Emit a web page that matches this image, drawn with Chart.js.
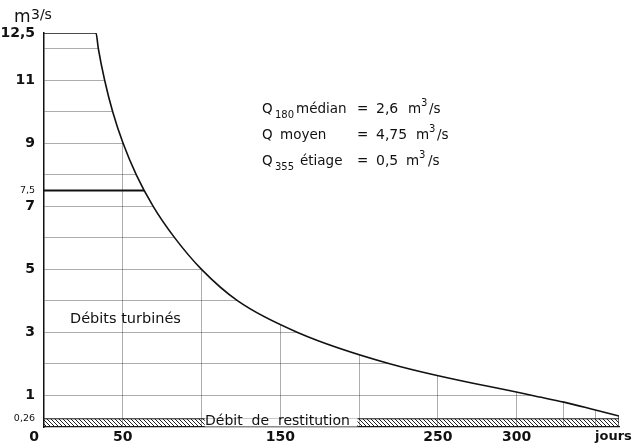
<!DOCTYPE html>
<html>
<head>
<meta charset="utf-8">
<script src="https://cdn.jsdelivr.net/npm/chart.js@4.4.0/dist/chart.umd.min.js"></script>
<style>
  html, body { margin: 0; padding: 0; background: #fff; }
  canvas { display: block; }
</style>
</head>
<body>
<canvas id="chart" width="640" height="446"></canvas>
<script>
// flow duration curve (days vs m3/s)
const days = [0, 33, 34.5, 38.5, 43.6, 50.2, 58.6, 69.3, 83, 100, 123, 161, 220, 310, 330, 350, 365];
const flow = [12.5, 12.5, 12, 11, 10, 9, 8, 7, 6, 5, 4, 3, 2, 1, 0.79, 0.54, 0.35];

const restitution = 0.26;
const markerLevel = 7.5;
const markerDay = 63.9;
const lastDay = 365;
const lastFlow = 0.35;

const yTicks = [0, 0.26, 1, 2, 3, 4, 5, 6, 7, 7.5, 8, 9, 10, 11, 12, 12.5];
const yLabels = [0.26, 1, 3, 5, 7, 7.5, 9, 11, 12.5];
const smallLabels = [0.26, 7.5];
const xTicks = [0, 50, 100, 150, 200, 250, 300, 330, 350, 365];
const xLabels = [50, 150, 250, 300];
const xGrid = [50, 100, 150, 200, 250, 300, 330, 350];

const fmt = v => String(v).replace(".", ",");
const GRID = "rgba(0,0,0,0.32)";

// hatch pattern for the restitution band
function makeHatch() {
  const c = document.createElement("canvas");
  c.width = 4; c.height = 4;
  const g = c.getContext("2d");
  g.strokeStyle = "#222";
  g.lineWidth = 1;
  g.beginPath();
  g.moveTo(-1, -1); g.lineTo(5, 5);
  g.moveTo(-1, 3); g.lineTo(1, 5);
  g.moveTo(3, -1); g.lineTo(5, 1);
  g.stroke();
  return g.createPattern(c, "repeat");
}

function txt(ctx, s, x, y, font, align) {
  ctx.font = font;
  ctx.textAlign = align || "left";
  ctx.fillText(s, x, y);
}

const labelsPlugin = {
  id: "labels",
  afterDraw(chart) {
    const ctx = chart.ctx;
    const xs = chart.scales.x, ys = chart.scales.y;
    ctx.save();
    ctx.fillStyle = "#111";
    ctx.textBaseline = "alphabetic";

    // unit on top of the y axis
    txt(ctx, "m", 14, 22, "17px 'DejaVu Sans'");
    txt(ctx, "3/s", 31, 19, "14px 'DejaVu Sans'");

    // origin and x unit
    txt(ctx, "0", 39, 441, "bold 14px 'DejaVu Sans'", "right");
    txt(ctx, "jours", 595, 440, "bold 13px 'DejaVu Sans'");

    // band label with white background
    const y0 = ys.getPixelForValue(0), y1 = ys.getPixelForValue(restitution);
    ctx.fillStyle = "#fff";
    ctx.fillRect(xs.getPixelForValue(102), y1 - 0.5, xs.getPixelForValue(199) - xs.getPixelForValue(102), y0 - y1);
    ctx.fillStyle = "#111";
    txt(ctx, "Débit  de  restitution", 205, 425, "14px 'DejaVu Sans'");

    txt(ctx, "Débits turbinés", 70, 323, "14.5px 'DejaVu Sans'");

    // characteristic flows
    const F = "13.5px 'DejaVu Sans'", S = "10px 'DejaVu Sans'", N = "14px 'DejaVu Sans'";
    txt(ctx, "Q", 262, 113, F); txt(ctx, "180", 275, 118, S); txt(ctx, "médian", 296, 113, F);
    txt(ctx, "=", 357, 113, F); txt(ctx, "2,6", 376, 113, N);
    txt(ctx, "m", 408, 113, F); txt(ctx, "3", 421, 106, S); txt(ctx, "/s", 429, 113, F);

    txt(ctx, "Q", 262, 139, F); txt(ctx, "moyen", 280, 139, F);
    txt(ctx, "=", 357, 139, F); txt(ctx, "4,75", 376, 139, N);
    txt(ctx, "m", 416, 139, F); txt(ctx, "3", 429, 132, S); txt(ctx, "/s", 437, 139, F);

    txt(ctx, "Q", 262, 165, F); txt(ctx, "355", 275, 170, S); txt(ctx, "étiage", 300, 165, F);
    txt(ctx, "=", 357, 165, F); txt(ctx, "0,5", 376, 165, N);
    txt(ctx, "m", 406, 165, F); txt(ctx, "3", 419, 158, S); txt(ctx, "/s", 428, 165, F);

    ctx.restore();
  }
};

new Chart(document.getElementById("chart"), {
  type: "line",
  data: {
    datasets: [
      {
        // duration curve; white fill above it hides the grid there
        data: days.map((d, i) => ({ x: d, y: flow[i] })),
        borderColor: "#111",
        borderWidth: 1.6,
        pointRadius: 0,
        cubicInterpolationMode: "monotone",
        fill: "end",
        backgroundColor: "#fff"
      },
      {
        data: [{ x: 0, y: markerLevel }, { x: markerDay, y: markerLevel }],
        borderColor: "#111",
        borderWidth: 2,
        pointRadius: 0,
        fill: false
      },
      {
        data: [{ x: lastDay, y: 0 }, { x: lastDay, y: lastFlow }],
        borderColor: "#111",
        borderWidth: 1.2,
        pointRadius: 0,
        fill: false
      },
      {
        data: [{ x: 0, y: restitution }, { x: lastDay, y: restitution }],
        borderColor: "#111",
        borderWidth: 1,
        pointRadius: 0,
        fill: "origin",
        backgroundColor: makeHatch()
      }
    ]
  },
  options: {
    responsive: false,
    animation: false,
    devicePixelRatio: 1,
    layout: { padding: { top: 33, right: 21, left: 0, bottom: 0 } },
    plugins: { legend: { display: false }, tooltip: { enabled: false } },
    scales: {
      x: {
        type: "linear",
        min: 0,
        max: 365,
        afterBuildTicks: s => { s.ticks = xTicks.map(v => ({ value: v })); },
        afterFit: s => { s.height = 19; },
        grid: {
          drawTicks: false,
          lineWidth: 1,
          color: c => (c.tick && xGrid.includes(c.tick.value)) ? GRID : "rgba(0,0,0,0)"
        },
        border: { color: "#111", width: 1.2 },
        ticks: {
          autoSkip: false,
          maxRotation: 0,
          padding: 2,
          color: "#111",
          font: { family: "DejaVu Sans", size: 14, weight: "bold" },
          callback: v => xLabels.includes(v) ? fmt(v) : ""
        }
      },
      y: {
        type: "linear",
        min: 0,
        max: 12.5,
        afterBuildTicks: s => { s.ticks = yTicks.map(v => ({ value: v })); },
        afterFit: s => { s.width = 44; },
        grid: {
          drawTicks: false,
          lineWidth: 1,
          color: c => (c.tick && Number.isInteger(c.tick.value) && c.tick.value > 0) ? GRID : "rgba(0,0,0,0)"
        },
        border: { color: "#111", width: 1.5 },
        ticks: {
          autoSkip: false,
          padding: 9,
          color: "#111",
          font: c => smallLabels.includes(c.tick && c.tick.value)
            ? { family: "DejaVu Sans", size: 9.5 }
            : { family: "DejaVu Sans", size: 14, weight: "bold" },
          callback: v => yLabels.includes(v) ? fmt(v) : ""
        }
      }
    }
  },
  plugins: [labelsPlugin]
});
</script>
</body>
</html>
